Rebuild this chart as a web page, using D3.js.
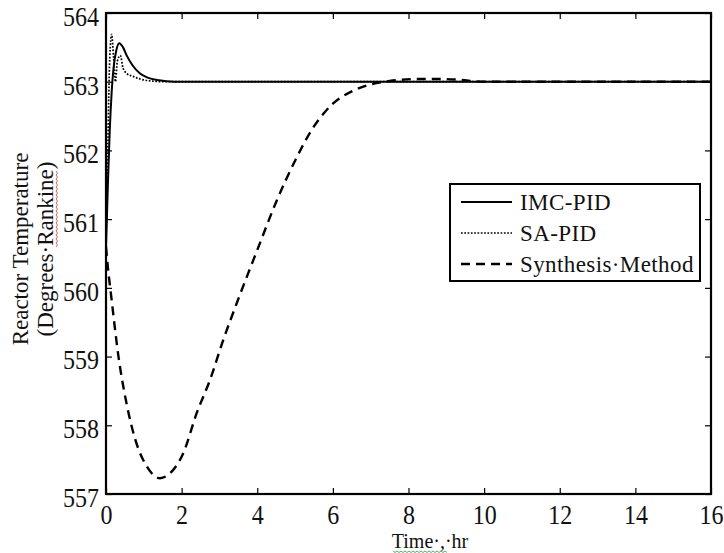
<!doctype html>
<html lang="en">
<head>
<meta charset="utf-8">
<title>Reactor Temperature</title>
<style>
  body { margin: 0; background: #fff; }
  svg text { font-family: "Liberation Serif", "Times New Roman", serif; fill: #111; }
</style>
</head>
<body>
<svg id="chart"></svg>
<script src="https://cdnjs.cloudflare.com/ajax/libs/d3/7.8.5/d3.min.js"></script>
<script>
// data
var imcT   = [0, 0.05, 0.1, 0.15, 0.2, 0.27, 0.35, 0.45, 0.55, 0.7, 0.9, 1.1, 1.4, 1.8, 4, 8, 12, 16];
var imcV   = [560.6, 561.5, 562.3, 562.85, 563.2, 563.45, 563.56, 563.5, 563.38, 563.24, 563.12, 563.06, 563.02, 563.0, 563.0, 563.0, 563.0, 563.0];
var saT    = [0, 0.05, 0.1, 0.15, 0.2, 0.25, 0.3, 0.38, 0.45, 0.55, 0.7, 0.9, 1.2, 1.6, 4, 8, 12, 16];
var saV    = [560.6, 562.1, 563.35, 563.69, 563.35, 563.0, 563.3, 563.38, 563.2, 563.12, 563.08, 563.04, 563.01, 563.0, 563.0, 563.0, 563.0, 563.0];
var synT   = [0, 0.05, 0.15, 0.33, 0.55, 0.77, 1.08, 1.43, 1.69, 2.04, 2.4, 2.75, 3.1, 3.46, 4.0, 4.5, 5.0, 5.5, 6.0, 6.5, 7.0, 7.5, 8.3, 8.83, 9.3, 10, 12, 16];
var synV   = [560.6, 560.3, 559.82, 559.0, 558.3, 557.8, 557.4, 557.23, 557.3, 557.59, 558.18, 558.66, 559.24, 559.78, 560.55, 561.25, 561.85, 562.35, 562.68, 562.86, 562.96, 563.01, 563.04, 563.04, 563.03, 563.0, 563.0, 563.0];
var seriesNames = ["IMC-PID", "SA-PID", "Synthesis\u00b7Method"];
var xTicks = [0, 2, 4, 6, 8, 10, 12, 14, 16];
var yTicks = [557, 558, 559, 560, 561, 562, 563, 564];

var width = 724, height = 553;
//plot box (note: "top" is taken by window.top, so use other names)
var boxL = 106, boxR = 711, boxT = 13, boxB = 494;

var svg = d3.select("#chart").attr("width", width).attr("height", height);

var x = d3.scaleLinear().domain([0, 16]).range([boxL, boxR]);
var y = d3.scaleLinear().domain([557, 564]).range([boxB, boxT]);

//clip the curves to the box
svg.append("clipPath").attr("id", "box")
  .append("rect").attr("x", boxL).attr("y", boxT).attr("width", boxR - boxL).attr("height", boxB - boxT);

var line = d3.line()
  .x(function(d) { return x(d[0]); })
  .y(function(d) { return y(d[1]); })
  .curve(d3.curveMonotoneX);

function pairs(t, v) { return t.map(function(d, i) { return [d, v[i]]; }); }

var styles = [
  { w: 2, dash: null },
  { w: 1.7, dash: "1.7,1.6" },
  { w: 2.4, dash: "9,6" }
];
var data = [pairs(imcT, imcV), pairs(saT, saV), pairs(synT, synV)];

var plot = svg.append("g").attr("clip-path", "url(#box)");
data.forEach(function(d, i) {
  plot.append("path")
    .datum(d)
    .attr("d", line)
    .attr("fill", "none")
    .attr("stroke", "#000")
    .attr("stroke-width", styles[i].w)
    .attr("stroke-dasharray", styles[i].dash);
});

//tick labels in the picture are a bit taller than wide
function stretch(g) {
  g.selectAll(".tick text").each(function() {
    var t = d3.select(this);
    var ty = +t.attr("y") || 0;
    t.attr("transform", "translate(0," + ty + ") scale(1,1.15) translate(0," + (-ty) + ")");
  });
}

//axes, ticks point inwards on all four sides
var fs = 24;
svg.append("g").attr("transform", "translate(0," + boxB + ")")
  .call(d3.axisBottom(x).tickValues(xTicks).tickSize(-6).tickPadding(10).tickFormat(d3.format("d")))
  .call(function(g) { g.select(".domain").remove(); g.selectAll("text").attr("font-size", fs); })
  .call(stretch);
svg.append("g").attr("transform", "translate(0," + boxT + ")")
  .call(d3.axisTop(x).tickValues(xTicks).tickSize(-6).tickFormat(""))
  .call(function(g) { g.select(".domain").remove(); });
svg.append("g").attr("transform", "translate(" + boxL + ",0)")
  .call(d3.axisLeft(y).tickValues(yTicks).tickSize(-6).tickPadding(7).tickFormat(d3.format("d")))
  .call(function(g) { g.select(".domain").remove(); g.selectAll("text").attr("font-size", fs).attr("dy", "0.45em"); })
  .call(stretch);
svg.append("g").attr("transform", "translate(" + boxR + ",0)")
  .call(d3.axisRight(y).tickValues(yTicks).tickSize(-6).tickFormat(""))
  .call(function(g) { g.select(".domain").remove(); });
svg.selectAll(".tick line").attr("stroke", "#000").attr("stroke-width", 1.2);

svg.append("rect")
  .attr("x", boxL).attr("y", boxT).attr("width", boxR - boxL).attr("height", boxB - boxT)
  .attr("fill", "none").attr("stroke", "#000").attr("stroke-width", 2.2);

//axis titles
svg.append("text").attr("x", 430).attr("y", 548).attr("text-anchor", "middle")
  .attr("font-size", 20).text("Time\u00b7,\u00b7hr");
var yl = svg.append("text").attr("transform", "translate(28,249) rotate(-90)")
  .attr("text-anchor", "middle").attr("font-size", 23);
yl.append("tspan").attr("x", 0).attr("dy", 0).text("Reactor Temperature");
yl.append("tspan").attr("x", 0).attr("dy", 25).text("(Degrees\u00b7Rankine)");

//spell check squiggles
function squiggle(x0, y0, len, vertical, color) {
  var pts = [];
  for (var k = 0; k <= len; k += 2) pts.push([k, (k / 2) % 2 ? 1.5 : 0]);
  svg.append("path")
    .attr("d", d3.line()(pts))
    .attr("transform", vertical ? "translate(" + x0 + "," + y0 + ") rotate(-90)" : "translate(" + x0 + "," + y0 + ")")
    .attr("fill", "none").attr("stroke", color).attr("stroke-width", 0.8);
}
squiggle(56, 247, 77, true, "#e0302a");
squiggle(393, 551, 54, false, "#2a9a40");

//legend
var lg = svg.append("g");
lg.append("rect").attr("x", 450).attr("y", 184).attr("width", 250).attr("height", 97)
  .attr("fill", "#fff").attr("stroke", "#000").attr("stroke-width", 2);
seriesNames.forEach(function(name, i) {
  var yy = 202 + i * 31;
  lg.append("line").attr("x1", 461).attr("x2", 512).attr("y1", yy).attr("y2", yy)
    .attr("stroke", "#000").attr("stroke-width", styles[i].w).attr("stroke-dasharray", styles[i].dash);
  lg.append("text").attr("x", 520).attr("y", yy + 8).attr("font-size", 23)
    .attr("letter-spacing", 0.4).text(name);
});
</script>
</body>
</html>
